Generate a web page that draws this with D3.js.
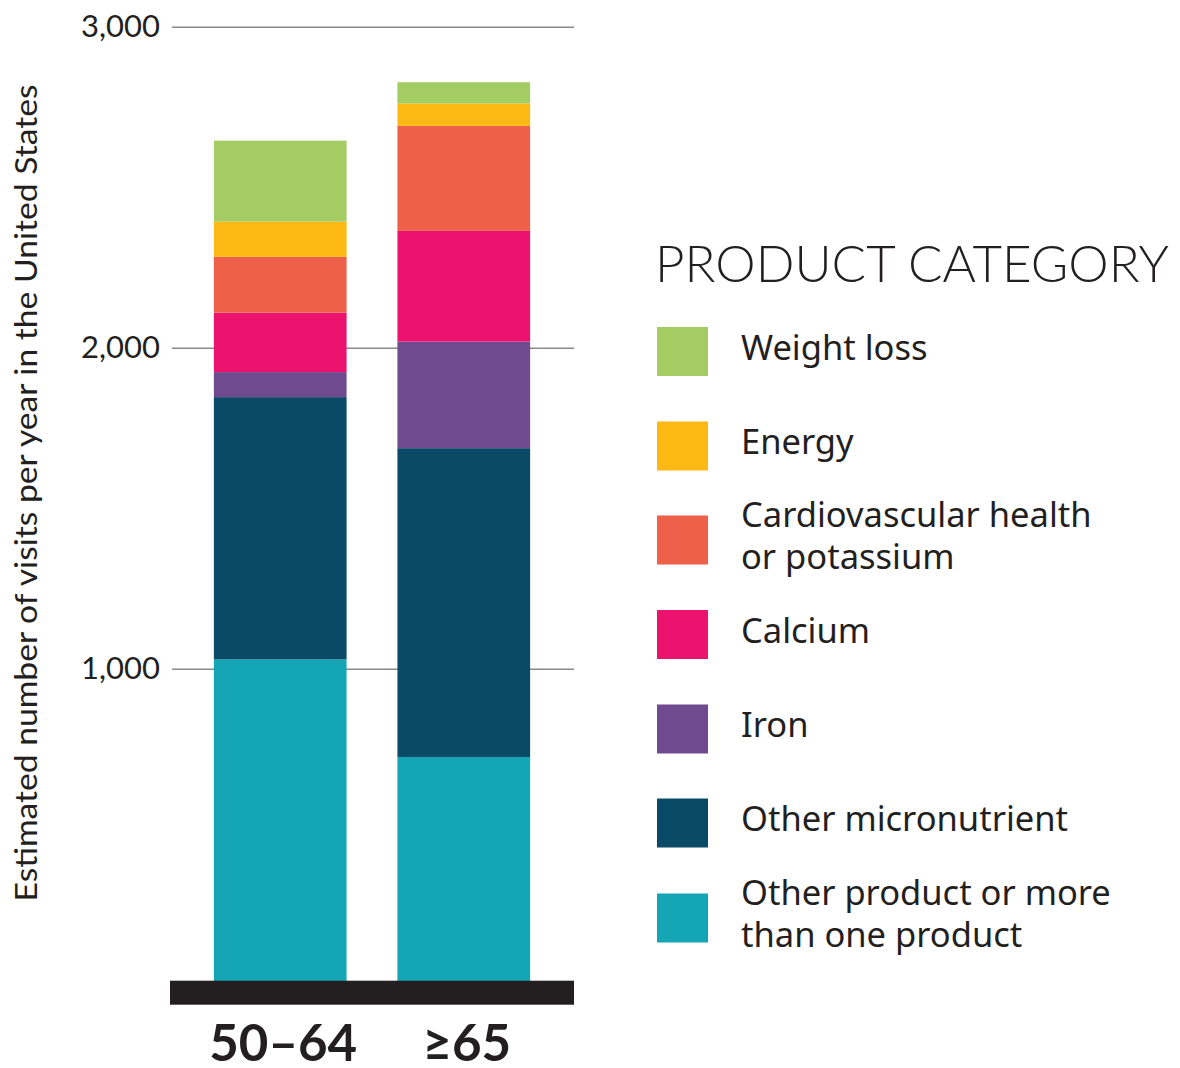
<!DOCTYPE html>
<html>
<head>
<meta charset="utf-8">
<script src="https://cdn.jsdelivr.net/npm/d3@7"></script>
<style>
  body { margin: 0; background: #fff; }
  svg { display: block; font-family: Lato, "Noto Sans", sans-serif; }
</style>
</head>
<body>
<script>
// age groups on the x axis
var ageGroups = ["50\u201364", "\u226565"];
// stack order, bottom to top
var categories = ["Other product or more than one product", "Other micronutrient", "Iron", "Calcium",
                  "Cardiovascular health or potassium", "Energy", "Weight loss"];
var colors = ["#15a6b6", "#0b4a66", "#6f4a8e", "#ec136e", "#ee604a", "#fcb813", "#a3cd62"];
// visits per year, one value per category (same order as categories)
var values5064 = [1029, 817, 78, 185, 174, 110, 252];
var values65 = [725, 962, 332, 345, 327, 70, 66];
var yTicks = [1000, 2000, 3000];
// legend goes top to bottom, with line breaks
var legendLabels = [["Weight loss"], ["Energy"], ["Cardiovascular health", "or potassium"], ["Calcium"],
                    ["Iron"], ["Other micronutrient"], ["Other product or more", "than one product"]];

var width = 1180, height = 1068;

var svg = d3.select("body").append("svg")
    .attr("width", width)
    .attr("height", height);

// build rows for d3.stack
var rows = ageGroups.map(function(g, i){
    var vals = i == 0 ? values5064 : values65;
    var row = {group: g};
    categories.forEach(function(c, j){ row[c] = vals[j]; });
    return row;
});

var series = d3.stack().keys(categories)(rows);

var x = d3.scaleBand()
    .domain(ageGroups)
    .range([170, 574])
    .paddingInner(0.277)
    .paddingOuter(0.239);

var y = d3.scaleLinear()
    .domain([0, 3000])
    .range([989.7, 26.7]);

var color = d3.scaleOrdinal().domain(categories).range(colors);

// gridlines + tick labels
var yAxis = d3.axisLeft(y)
    .tickValues(yTicks)
    .tickSize(574 - 172)
    .tickPadding(12)
    .tickFormat(d3.format(","));

var axis = svg.append("g")
    .attr("class", "axis")
    .attr("transform", "translate(574,0)")
    .call(yAxis);

axis.select(".domain").remove();
axis.selectAll(".tick line")
    .attr("stroke", "#8a8a8a")
    .attr("stroke-width", 1.5);
axis.selectAll(".tick text")
    .attr("fill", "#231f20")
    .style("font-size", "31px")
    .style("font-family", "Lato, sans-serif");

// stacked bars
svg.append("g")
    .selectAll("g")
    .data(series)
    .enter()
    .append("g")
    .attr("fill", function(d){ return color(d.key); })
    .selectAll("rect")
    .data(function(d){ return d; })
    .enter()
    .append("rect")
    .attr("x", function(d){ return x(d.data.group); })
    .attr("y", function(d){ return y(d[1]); })
    .attr("width", x.bandwidth())
    .attr("height", function(d){ return y(d[0]) - y(d[1]); });

// thick black baseline
svg.append("rect")
    .attr("x", 170)
    .attr("y", y(0) - 9)
    .attr("width", 404)
    .attr("height", 24)
    .attr("fill", "#231f20");

// x labels
svg.append("g")
    .selectAll("text")
    .data(ageGroups)
    .enter()
    .append("text")
    .attr("x", function(d){ return x(d) + x.bandwidth() / 2 + 3; })
    .attr("y", 1061)
    .attr("text-anchor", "middle")
    .attr("fill", "#231f20")
    .style("font-size", "51px")
    .style("font-weight", "bold")
    .text(function(d){ return d; });

// y axis title
svg.append("text")
    .attr("transform", "translate(37,493) rotate(-90)")
    .attr("text-anchor", "middle")
    .attr("fill", "#231f20")
    .attr("textLength", 817)
    .attr("lengthAdjust", "spacingAndGlyphs")
    .style("font-size", "30px")
    .text("Estimated number of visits per year in the United States");

// legend
svg.append("text")
    .attr("x", 655)
    .attr("y", 282)
    .attr("fill", "#231f20")
    .attr("textLength", 514)
    .attr("lengthAdjust", "spacingAndGlyphs")
    .style("font-size", "52px")
    .style("font-weight", 300)
    .text("PRODUCT CATEGORY");

var legendCenters = [351.5, 446, 540, 634.5, 729, 823, 918];
var legendColors = colors.slice().reverse();

var legend = svg.append("g")
    .selectAll("g")
    .data(legendLabels)
    .enter()
    .append("g")
    .attr("transform", function(d, i){ return "translate(0," + legendCenters[i] + ")"; });

legend.append("rect")
    .attr("x", 657)
    .attr("y", -24.5)
    .attr("width", 51)
    .attr("height", 49)
    .attr("fill", function(d, i){ return legendColors[i]; });

legend.append("text")
    .attr("fill", "#231f20")
    .style("font-size", "34.5px")
    .style("font-family", "'Noto Sans', sans-serif")
    .selectAll("tspan")
    .data(function(d){ return d.map(function(t, k){ return {t: t, k: k, n: d.length}; }); })
    .enter()
    .append("tspan")
    .attr("x", 741)
    .attr("y", function(d){ return 8 + (d.k - (d.n - 1) / 2) * 42; })
    .text(function(d){ return d.t; });
</script>
</body>
</html>
